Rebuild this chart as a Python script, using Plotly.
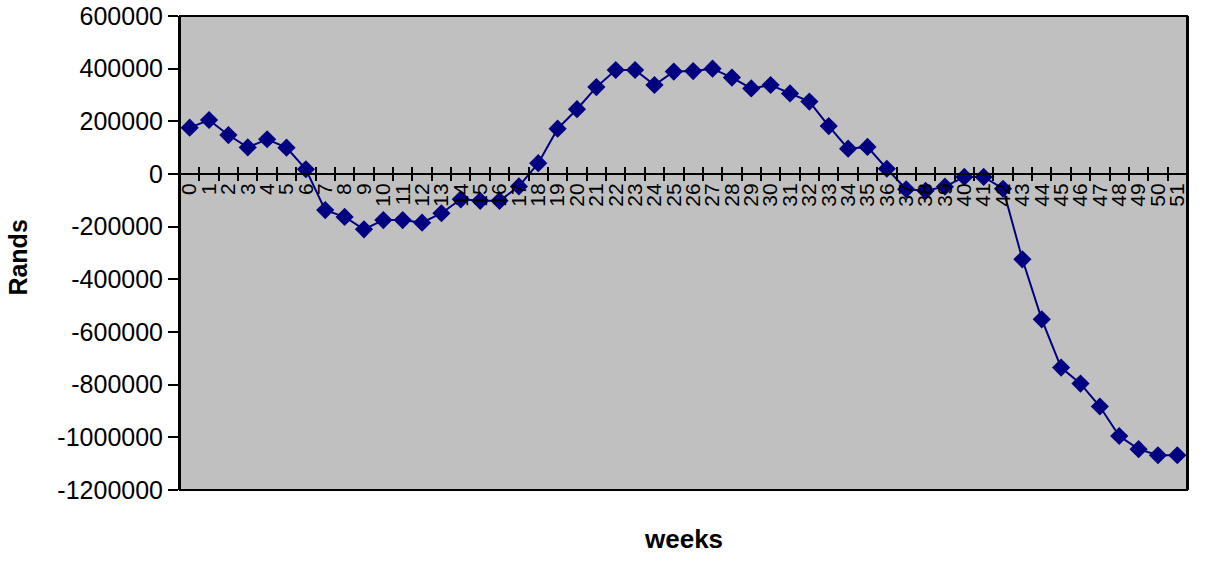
import plotly.graph_objects as go

weeks = [str(i) for i in range(52)]
rands = [176000, 205000, 148000, 101000, 132000, 100000, 18000, -137000, -163000, -210000,
         -175000, -175000, -185000, -149000, -96000, -102000, -102000, -47000, 41000, 172000,
         246000, 330000, 395000, 395000, 338000, 389000, 391000, 400000, 366000, 325000,
         338000, 306000, 275000, 182000, 96000, 103000, 20000, -58000, -64000, -48000,
         -11000, -11000, -56000, -324000, -552000, -735000, -796000, -883000, -995000, -1045000,
         -1068000, -1068000]

ytick_vals = [600000, 400000, 200000, 0, -200000, -400000, -600000, -800000, -1000000, -1200000]
ytick_labels = ["600000", "400000", "200000", "0", "-200000", "-400000", "-600000",
                "-800000", "-1000000", "-1200000"]

FONT = "Liberation Sans, Arial, sans-serif"
NAVY = "#000080"

fig = go.Figure()
fig.add_trace(go.Scatter(
    x=weeks, y=rands, mode="lines+markers",
    line=dict(color=NAVY, width=2),
    marker=dict(symbol="diamond", size=14, color=NAVY),
    showlegend=False, xaxis="x", yaxis="y",
))
# helper trace for the second (upward-tick) category axis
fig.add_trace(go.Scatter(
    x=weeks, y=rands, mode="lines", line=dict(width=0, color="rgba(0,0,0,0)"),
    showlegend=False, hoverinfo="skip", xaxis="x2", yaxis="y",
))

zero_pos = (0 - ytick_vals[-1]) / (ytick_vals[0] - ytick_vals[-1])

common_x = dict(
    type="category", range=[-0.5, 51.5], anchor="free", position=zero_pos,
    showline=True, linecolor="black", linewidth=2, showgrid=False, automargin=False,
    tickson="boundaries", tickmode="linear", tick0=0, dtick=1,
    tickcolor="black", tickwidth=2, ticklen=6, ticks="outside",
)

fig.update_layout(
    width=1206, height=569,
    margin=dict(l=180, r=19, t=16, b=79),
    paper_bgcolor="white", plot_bgcolor="#C0C0C0",
    font=dict(family=FONT, color="black"),
    xaxis=dict(**common_x, side="bottom", tickangle=-90, ticklabeloverflow="allow",
               tickfont=dict(family=FONT, size=21, color="black")),
    xaxis2=dict(**common_x, side="top", overlaying="x", showticklabels=False),
    yaxis=dict(
        range=[ytick_vals[-1], ytick_vals[0]], tickmode="array",
        tickvals=ytick_vals, ticktext=ytick_labels, automargin=False,
        ticklabeloverflow="allow",
        showline=True, linecolor="black", linewidth=2, mirror=True,
        ticks="outside", ticklen=10, tickwidth=2, tickcolor="black",
        showgrid=False, zeroline=False,
        tickfont=dict(family=FONT, size=25, color="black"),
    ),
    shapes=[dict(type="rect", xref="paper", yref="paper", x0=0, x1=1, y0=0, y1=1,
                 line=dict(color="black", width=2), fillcolor="rgba(0,0,0,0)", layer="above")],
    annotations=[
        dict(text="<b>weeks</b>", xref="paper", yref="paper", x=0.5, y=-0.103,
             showarrow=False, xanchor="center", yanchor="middle",
             font=dict(family=FONT, size=26, color="black")),
        dict(text="<b>Rands</b>", xref="paper", yref="paper", x=-0.161, y=0.49,
             showarrow=False, textangle=-90, xanchor="center", yanchor="middle",
             font=dict(family=FONT, size=25, color="black")),
    ],
)

fig.write_html("out.html", config={"displayModeBar": False},
               post_script="document.body.style.margin='0';document.body.style.padding='0';")
